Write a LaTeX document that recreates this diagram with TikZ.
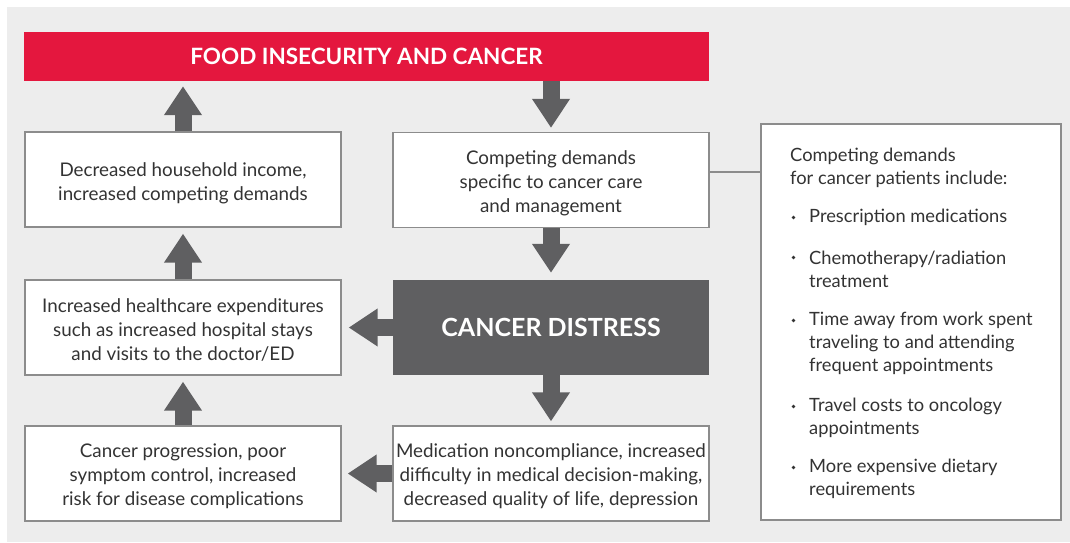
\documentclass[tikz,border=0pt]{standalone}
\usepackage{fontspec}
\setmainfont{Lato}
\usetikzlibrary{arrows.meta}
\definecolor{bg}{HTML}{EDEDED}
\definecolor{fred}{HTML}{E4173E}
\definecolor{dgray}{HTML}{5F5F61}
\definecolor{bord}{HTML}{8C8C8C}
\definecolor{txt}{HTML}{333333}
\begin{document}
\begin{tikzpicture}[x=1pt,y=-1pt,
  box/.style={draw=bord,line width=1.3pt,fill=white,minimum width=316pt,minimum height=95pt,inner sep=0pt},
  btxt/.style={inner sep=0pt,align=center,text=txt,font=\fontsize{18.8}{24}\selectfont},
  blk/.style={line width=17pt,draw=dgray,-{Triangle[width=36pt,length=29pt]}},
  itm/.style={anchor=west,inner sep=0pt,align=left,text=txt,font=\fontsize{18.3}{23}\selectfont},
  bul/.style={fill=txt}]
\useasboundingbox (0,0) rectangle (1070,542);
\fill[bg] (7,7) rectangle (1070,542);
% nodes
\node[fill=fred,minimum width=685pt,minimum height=49pt,inner sep=0pt,text=white,font=\fontsize{22.5}{24}\selectfont\bfseries] (top) at (366.5,56.5) {FOOD INSECURITY AND CANCER};
\node[box] (b1) at (183,179.5) {};
\node[box] (b2) at (551,180) {};
\node[box] (b3) at (183,327.5) {};
\node[fill=dgray,minimum width=316pt,minimum height=95pt,inner sep=0pt,text=white,font=\fontsize{25}{28}\selectfont\bfseries] (cd) at (551,327.5) {CANCER DISTRESS};
\node[box] (b4) at (183,473.5) {};
\node[box] (b5) at (551,473.5) {};
\node[btxt] (t1) at ([yshift=-3.5pt]b1.center) {Decreased household income,\\increased competing demands};
\node[btxt] (t2) at ([yshift=-3pt]b2.center) {Competing demands\\specific to cancer care\\and management};
\node[btxt] (t3) at ([yshift=-2pt]b3.center) {Increased healthcare expenditures\\such as increased hospital stays\\and visits to the doctor/ED};
\node[btxt] (t4) at ([yshift=-3pt]b4.center) {Cancer progression, poor\\symptom control, increased\\risk for disease complications};
\node[btxt] (t5) at ([yshift=-3pt]b5.center) {Medication noncompliance, increased\\difficulty in medical decision-making,\\decreased quality of life, depression};
\node[draw=bord,line width=1.3pt,fill=white,minimum width=300pt,minimum height=396pt,inner sep=0pt] (rb) at (911,322) {};
% arrows
\draw[blk] (b1.north) -- ([yshift=-5pt]b1.north |- top.south);
\draw[blk] (top.south -| b2.north) -- ([yshift=4pt]b2.north);
\draw[blk] (b2.south) -- ([yshift=7pt]cd.north);
\draw[blk] (cd.south) -- ([yshift=4pt]b5.north);
\draw[blk] (b5.west) -- ([xshift=6pt]b4.east);
\draw[blk] (cd.west) -- ([xshift=7pt]b3.east);
\draw[blk] (b4.north) -- ([yshift=-6pt]b3.south);
\draw[blk] (b3.north) -- ([yshift=-6pt]b1.south);
% connector
\draw[bord,line width=1.5pt] ([yshift=8pt]b2.east) -- ([yshift=8pt]b2.east -| rb.west);
% right box text
\node[itm] (h) at (790,167.5) {Competing demands\\for cancer patients include:};
\node[itm] (i1) at (809,217.5) {Prescription medications};
\node[itm] (i2) at (809,269) {Chemotherapy/radiation\\treatment};
\node[itm] (i3) at (809,343) {Time away from work spent\\traveling to and attending\\frequent appointments};
\node[itm] (i4) at (809,417.5) {Travel costs to oncology\\appointments};
\node[itm] (i5) at (809,479) {More expensive dietary\\requirements};
\foreach \y in {217.5,257.5,320.5,406.5,467.5} \fill[bul] (793.5,\y) circle (1.8pt);
\end{tikzpicture}
\end{document}
